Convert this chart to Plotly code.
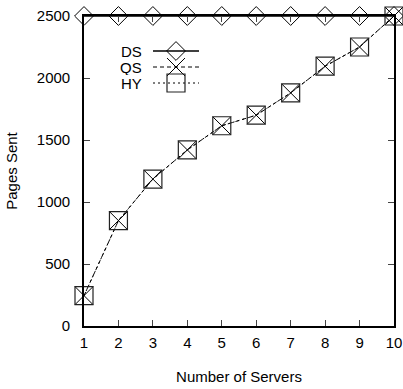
import plotly.graph_objects as go

servers = [1, 2, 3, 4, 5, 6, 7, 8, 9, 10]
ds_pages = [2500, 2500, 2500, 2500, 2500, 2500, 2500, 2500, 2500, 2500]
qs_pages = [245, 850, 1185, 1420, 1615, 1700, 1880, 2095, 2250, 2500]
hy_pages = [245, 850, 1185, 1420, 1615, 1700, 1880, 2095, 2250, 2500]
y_ticks = [0, 500, 1000, 1500, 2000, 2500]
series_names = ["DS", "QS", "HY"]

FONT = "Liberation Sans, Arial, sans-serif"
FS = 15

fig = go.Figure()
fig.add_trace(go.Scatter(
    x=servers, y=ds_pages, name=series_names[0], mode="lines+markers",
    line=dict(color="black", width=1.6),
    marker=dict(symbol="diamond-open", size=14.5, color="black", line=dict(width=1)),
    cliponaxis=False,
))
fig.add_trace(go.Scatter(
    x=servers, y=qs_pages, name=series_names[1], mode="lines+markers",
    line=dict(color="black", width=1, dash="4px,3px"),
    marker=dict(symbol="x-thin-open", size=18, color="black", line=dict(width=1, color="black")),
    cliponaxis=False,
))
fig.add_trace(go.Scatter(
    x=servers, y=hy_pages, name=series_names[2], mode="lines+markers",
    line=dict(color="black", width=1, dash="2px,3px"),
    marker=dict(symbol="square-open", size=18, color="#222", line=dict(width=1.2)),
    cliponaxis=False,
))

# Hand-drawn key: right-aligned labels followed by a line sample and symbol
L, R, T, B = 84, 394, 16, 326
W, H = 403, 389
def px(x):
    return (x - L) / (R - L)
def py(y):
    return (B - y) / (B - T)

key_rows = [51, 67, 83]
line_x0, line_x1, mx = 153, 199, 176
shapes = []
annotations = []
for i, name in enumerate(series_names):
    yy = key_rows[i]
    annotations.append(dict(
        x=px(143), y=py(yy), xref="paper", yref="paper", text=name,
        showarrow=False, xanchor="right", yanchor="middle", height=15, borderpad=0,
        font=dict(family=FONT, size=FS, color="black"),
    ))
styles = [dict(width=1.6, dash="solid"), dict(width=1, dash="4px,3px"), dict(width=1, dash="2px,3px")]
for i in range(3):
    yy = key_rows[i]
    shapes.append(dict(type="line", xref="paper", yref="paper",
                       x0=px(line_x0), x1=px(line_x1), y0=py(yy), y1=py(yy),
                       line=dict(color="black", **styles[i])))
# key symbols
d = 9.4
yy = key_rows[0]
shapes.append(dict(type="path", xref="paper", yref="paper",
                   path=f"M {px(mx-d)},{py(yy)} L {px(mx)},{py(yy-d)} L {px(mx+d)},{py(yy)} L {px(mx)},{py(yy+d)} Z",
                   line=dict(color="black", width=1), fillcolor="rgba(0,0,0,0)"))
s = 9
yy = key_rows[1]
shapes.append(dict(type="line", xref="paper", yref="paper", x0=px(mx-s), x1=px(mx+s),
                   y0=py(yy-s), y1=py(yy+s), line=dict(color="black", width=1)))
shapes.append(dict(type="line", xref="paper", yref="paper", x0=px(mx-s), x1=px(mx+s),
                   y0=py(yy+s), y1=py(yy-s), line=dict(color="black", width=1)))
yy = key_rows[2]
shapes.append(dict(type="rect", xref="paper", yref="paper", x0=px(mx-s), x1=px(mx+s),
                   y0=py(yy+s), y1=py(yy-s), line=dict(color="#222", width=1.2)))

fig.update_layout(
    width=W, height=H,
    margin=dict(l=L, r=W - R, t=T, b=H - B),
    plot_bgcolor="white", paper_bgcolor="white",
    showlegend=False,
    font=dict(family=FONT, size=FS, color="black"),
    shapes=shapes, annotations=annotations,
    xaxis=dict(
        range=[1, 10], tickvals=servers, ticks="inside", ticklen=6,
        showline=True, linecolor="black", linewidth=1.6, mirror="ticks",
        showgrid=False, zeroline=False, ticklabelstandoff=2, automargin=False,
        title=dict(text="Number of Servers", standoff=22, font=dict(size=FS)),
    ),
    yaxis=dict(
        range=[0, 2500], tickvals=y_ticks, ticks="inside", ticklen=6,
        showline=True, linecolor="black", linewidth=1.6, mirror="ticks",
        showgrid=False, zeroline=False, ticklabelstandoff=9, automargin=False,
        title=dict(text="Pages Sent", standoff=16, font=dict(size=FS)),
    ),
)

fig.write_html("out.html")
